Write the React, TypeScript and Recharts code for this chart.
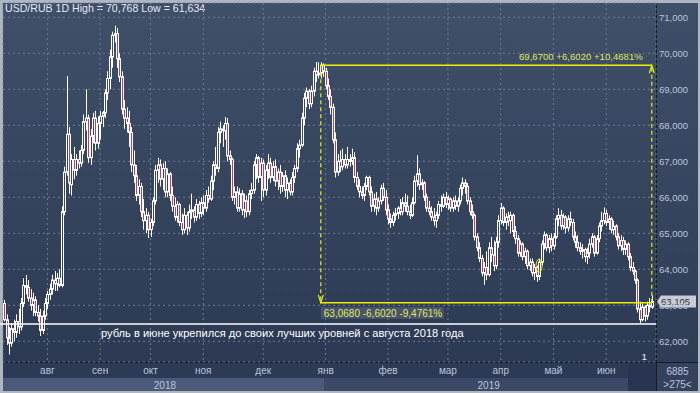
import React from "react";
import { ComposedChart, Bar, XAxis, YAxis, CartesianGrid, ReferenceLine, ReferenceDot } from "recharts";

type Ohlc = [number, number, number, number]; // open, high, low, close

const jul18: Ohlc[] = [
  [63.05, 63.15, 62.55, 62.6], [62.6, 62.75, 61.9, 62.1], [62.1, 62.4, 61.634, 61.95], [61.95, 62.5, 61.85, 62.35],
  [62.35, 62.6, 62.0, 62.25], [62.25, 62.75, 62.1, 62.55], [62.55, 62.9, 62.2, 62.4], [62.4, 63.2, 62.3, 63.05],
  [63.05, 63.75, 62.95, 63.55], [63.55, 63.84, 63.3, 63.5], [63.5, 63.7, 63.1, 63.2], [63.2, 63.45, 62.85, 63.0],
  [63.0, 63.35, 62.7, 63.15], [63.15, 63.25, 62.7, 62.8], [62.8, 63.0, 62.55, 62.7], [62.7, 62.9, 62.15, 62.3],
  [62.3, 62.85, 62.2, 62.7], [62.7, 63.2, 62.6, 63.05],
];
const aug18: Ohlc[] = [
  [63.05, 63.4, 62.9, 63.3], [63.3, 63.6, 63.15, 63.45], [63.45, 63.85, 63.3, 63.7], [63.7, 63.95, 63.4, 63.6],
  [63.6, 63.9, 63.4, 63.75], [63.75, 64.0, 63.5, 63.55], [63.55, 65.75, 63.5, 65.6], [65.6, 66.85, 65.5, 66.7],
  [66.7, 69.37, 66.6, 67.75], [67.75, 67.95, 66.1, 66.4], [66.35, 67.2, 66.05, 67.05], [67.05, 67.4, 66.5, 66.75],
  [66.75, 67.2, 66.6, 67.05], [67.05, 67.3, 66.8, 66.95], [66.95, 67.45, 66.85, 67.3], [67.3, 68.3, 67.2, 68.1],
  [68.1, 69.0, 67.85, 68.2], [68.2, 68.3, 66.95, 67.1], [67.1, 67.9, 66.9, 67.7], [67.7, 68.35, 67.5, 68.2],
  [68.2, 68.4, 67.3, 67.5], [67.5, 68.25, 67.35, 68.05],
];
const sep18: Ohlc[] = [
  [68.05, 68.4, 67.6, 68.25], [68.25, 68.4, 67.95, 68.35], [68.35, 69.0, 68.2, 68.9], [68.9, 69.5, 68.7, 69.3],
  [69.3, 70.1, 69.0, 69.9], [69.9, 70.6, 69.6, 70.5], [70.5, 70.768, 70.3, 70.55], [70.55, 70.7, 69.6, 69.85],
  [69.85, 70.0, 69.2, 69.35], [69.35, 69.5, 68.3, 68.45], [68.45, 68.7, 67.9, 68.2], [68.2, 68.5, 67.8, 68.05],
  [68.05, 68.4, 67.4, 67.8], [67.8, 67.95, 66.7, 66.9], [66.9, 67.3, 66.4, 66.6], [66.6, 66.9, 65.9, 66.05],
  [66.05, 66.5, 65.8, 66.3], [66.3, 66.4, 65.45, 65.6], [65.6, 65.95, 65.1, 65.35], [65.35, 65.7, 65.0, 65.5],
  [65.5, 65.6, 64.87, 65.1],
];
const oct18: Ohlc[] = [
  [65.1, 65.4, 64.9, 65.3], [65.3, 66.0, 65.2, 65.9], [65.9, 66.9, 65.8, 66.75], [66.75, 67.1, 66.4, 66.9],
  [66.9, 67.05, 66.3, 66.5], [66.5, 66.95, 66.2, 66.8], [66.8, 67.0, 66.0, 66.15], [66.15, 66.8, 66.0, 66.65],
  [66.65, 66.7, 65.9, 66.05], [66.05, 66.3, 65.6, 65.75], [65.75, 66.0, 65.35, 65.45], [65.45, 65.9, 65.3, 65.8],
  [65.8, 65.85, 65.2, 65.3], [65.3, 65.55, 64.95, 65.1], [65.1, 65.7, 65.0, 65.5], [65.5, 65.6, 64.95, 65.15],
  [65.15, 65.8, 65.05, 65.6], [65.6, 66.1, 65.4, 65.65], [65.65, 65.75, 65.3, 65.45], [65.45, 65.95, 65.35, 65.8],
  [65.8, 65.9, 65.4, 65.55], [65.55, 66.0, 65.45, 65.85],
];
const nov18: Ohlc[] = [
  [65.85, 66.05, 65.5, 65.7], [65.7, 66.2, 65.6, 66.05], [66.05, 66.3, 65.85, 65.95], [65.95, 66.6, 65.9, 66.45],
  [66.45, 67.0, 66.2, 66.9], [66.9, 67.4, 66.6, 66.8], [66.8, 67.95, 66.7, 67.8], [67.8, 68.1, 67.5, 67.9],
  [67.9, 68.0, 67.4, 67.85], [67.85, 68.23, 67.6, 68.05], [68.05, 68.2, 67.0, 67.15], [67.15, 67.3, 66.9, 67.05],
  [67.05, 67.1, 65.9, 66.0], [66.0, 66.3, 65.8, 66.15], [66.15, 66.3, 65.6, 65.7], [65.7, 66.25, 65.6, 66.1],
  [66.1, 66.2, 65.5, 65.65], [65.65, 66.1, 65.42, 65.9], [65.9, 66.05, 65.45, 65.6], [65.6, 66.2, 65.5, 66.1],
  [66.1, 66.4, 65.95, 66.2], [66.2, 67.0, 66.1, 66.9], [66.9, 67.2, 66.5, 67.1], [67.1, 67.15, 66.4, 66.55],
  [66.55, 67.1, 65.9, 66.95],
];
const dec18: Ohlc[] = [
  [66.95, 67.05, 66.0, 66.2], [66.2, 66.9, 66.05, 66.75], [66.75, 67.2, 66.5, 66.95], [66.95, 67.1, 66.4, 66.55],
  [66.55, 67.0, 66.45, 66.85], [66.85, 67.05, 66.3, 66.45], [66.45, 66.8, 66.2, 66.7], [66.7, 66.9, 66.1, 66.3],
  [66.3, 66.7, 66.15, 66.6], [66.6, 66.75, 66.0, 66.2], [66.2, 66.55, 65.95, 66.4], [66.4, 66.5, 66.05, 66.15],
  [66.15, 66.7, 66.05, 66.55], [66.55, 66.9, 66.4, 66.8], [66.8, 67.5, 66.7, 67.35], [67.35, 67.6, 67.1, 67.45],
  [67.45, 68.35, 67.4, 68.2], [68.2, 68.9, 68.0, 68.75], [68.75, 69.05, 68.5, 68.95], [68.95, 69.0, 68.45, 68.6],
  [68.6, 69.1, 68.5, 68.95], [68.95, 69.6, 68.8, 69.5], [69.5, 69.76, 69.2, 69.4], [69.4, 69.75, 69.3, 69.45],
  [69.45, 69.75, 69.3, 69.67], [69.67, 69.72, 69.35, 69.5],
];
const jan19: Ohlc[] = [
  [69.5, 69.6, 69.0, 69.1], [69.1, 69.3, 68.7, 68.8], [68.8, 69.0, 68.3, 68.5], [68.5, 68.6, 67.5, 67.6],
  [67.6, 67.8, 66.55, 66.7], [66.7, 67.2, 66.6, 67.0], [67.0, 67.3, 66.7, 66.85], [66.85, 67.35, 66.75, 67.05],
  [67.05, 67.2, 66.8, 66.9], [66.9, 67.4, 66.8, 67.05], [67.05, 67.2, 66.85, 67.0], [67.0, 67.35, 66.9, 67.1],
  [67.1, 67.25, 66.4, 66.55], [66.55, 66.7, 66.2, 66.3], [66.3, 66.5, 66.0, 66.15], [66.15, 66.3, 65.95, 66.05],
  [66.05, 66.4, 65.9, 66.3], [66.3, 66.6, 66.2, 66.55], [66.55, 66.6, 66.05, 66.15], [66.15, 66.3, 65.6, 65.75],
  [65.75, 66.1, 65.6, 65.95], [65.95, 66.15, 65.5, 65.7], [65.7, 66.0, 65.6, 65.9], [65.9, 66.35, 65.8, 66.25],
  [66.25, 66.4, 65.9, 66.0], [66.0, 66.2, 65.5, 65.65],
];
const feb19: Ohlc[] = [
  [65.65, 65.8, 65.25, 65.4], [65.4, 65.55, 65.15, 65.3], [65.3, 65.6, 65.2, 65.5], [65.5, 65.7, 65.35, 65.55],
  [65.55, 65.75, 65.4, 65.7], [65.7, 65.95, 65.5, 65.6], [65.6, 66.0, 65.5, 65.85], [65.85, 66.1, 65.6, 65.75],
  [65.75, 66.05, 65.5, 65.6], [65.6, 65.8, 65.4, 65.5], [65.5, 66.0, 65.45, 65.85], [65.85, 66.6, 65.8, 66.45],
  [66.45, 67.17, 66.3, 66.65], [66.65, 66.8, 66.2, 66.35], [66.35, 66.5, 66.2, 66.4], [66.4, 66.45, 65.9, 66.0],
  [66.0, 66.1, 65.6, 65.7], [65.7, 65.9, 65.5, 65.6], [65.6, 65.75, 65.35, 65.45], [65.45, 65.7, 65.2, 65.35],
  [65.35, 65.6, 65.15, 65.5], [65.5, 65.9, 65.4, 65.8], [65.8, 66.05, 65.6, 65.75], [65.75, 66.1, 65.7, 66.0],
  [66.0, 66.15, 65.7, 65.8],
];
const mar19: Ohlc[] = [
  [65.8, 66.05, 65.65, 65.95], [65.95, 66.0, 65.6, 65.7], [65.7, 66.0, 65.6, 65.9], [65.9, 66.05, 65.65, 65.75],
  [65.75, 66.0, 65.6, 65.9], [65.9, 66.35, 65.8, 66.25], [66.25, 66.55, 66.05, 66.4], [66.4, 66.5, 66.1, 66.3],
  [66.3, 66.4, 65.8, 65.9], [65.9, 66.0, 65.5, 65.6], [65.6, 65.8, 65.4, 65.5], [65.5, 65.55, 64.8, 64.9],
  [64.9, 65.0, 64.5, 64.6], [64.6, 64.75, 64.2, 64.3], [64.3, 64.4, 63.8, 63.9], [63.9, 64.2, 63.57, 64.05],
  [64.05, 64.5, 63.7, 63.85], [63.85, 64.75, 63.8, 64.6], [64.6, 64.9, 64.2, 64.4], [64.4, 64.8, 63.95, 64.1],
  [64.1, 64.9, 64.0, 64.75], [64.75, 65.5, 64.6, 65.35],
];
const apr19: Ohlc[] = [
  [65.35, 65.84, 65.25, 65.7], [65.7, 65.75, 65.2, 65.3], [65.3, 65.55, 65.1, 65.45], [65.45, 65.6, 65.2, 65.35],
  [65.35, 65.6, 65.0, 65.5], [65.5, 65.55, 64.9, 65.05], [65.05, 65.2, 64.7, 64.85], [64.85, 64.95, 64.35, 64.45],
  [64.45, 64.8, 64.35, 64.7], [64.7, 64.75, 64.25, 64.35], [64.35, 64.6, 64.15, 64.5], [64.5, 64.55, 64.0, 64.1],
  [64.1, 64.3, 63.95, 64.2], [64.2, 64.3, 63.8, 63.9], [63.9, 64.15, 63.7, 64.05], [64.05, 64.1, 63.65, 63.8],
  [63.8, 64.3, 63.7, 64.2], [64.2, 64.8, 64.1, 64.7], [64.7, 65.05, 64.55, 64.95], [64.95, 65.0, 64.5, 64.6],
  [64.6, 64.95, 64.45, 64.85], [64.85, 65.0, 64.5, 64.65],
];
const may19: Ohlc[] = [
  [64.65, 65.0, 64.55, 64.9], [64.9, 65.5, 64.85, 65.4], [65.4, 65.7, 65.2, 65.5], [65.5, 65.65, 65.1, 65.2],
  [65.2, 65.55, 65.1, 65.45], [65.45, 65.5, 65.0, 65.15], [65.15, 65.5, 65.05, 65.4], [65.4, 65.6, 65.2, 65.3],
  [65.3, 65.4, 64.8, 64.9], [64.9, 65.05, 64.6, 64.75], [64.75, 64.95, 64.5, 64.6], [64.6, 64.75, 64.4, 64.5],
  [64.5, 64.7, 64.3, 64.55], [64.55, 64.6, 64.2, 64.35], [64.35, 64.6, 64.15, 64.45], [64.45, 64.85, 64.3, 64.7],
  [64.7, 65.0, 64.6, 64.9], [64.9, 64.95, 64.35, 64.45], [64.45, 64.95, 64.4, 64.85], [64.85, 65.3, 64.75, 65.2],
  [65.2, 65.6, 65.05, 65.35], [65.35, 65.72, 65.25, 65.55],
];
const jun19: Ohlc[] = [
  [65.55, 65.65, 65.2, 65.3], [65.3, 65.5, 65.1, 65.4], [65.4, 65.45, 65.0, 65.1], [65.1, 65.35, 64.95, 65.2],
  [65.2, 65.25, 64.8, 64.9], [64.9, 65.0, 64.55, 64.65], [64.65, 64.95, 64.5, 64.8], [64.8, 64.9, 64.4, 64.55],
  [64.55, 64.8, 64.4, 64.7], [64.7, 64.75, 64.25, 64.35], [64.35, 64.45, 63.95, 64.05], [64.05, 64.2, 63.85, 63.95],
  [63.95, 64.0, 63.6, 63.7], [63.7, 63.75, 62.8, 62.9], [62.9, 63.1, 62.5, 62.6], [62.6, 63.05, 62.55, 62.95],
  [62.95, 63.0, 62.55, 62.7], [62.7, 63.1, 62.6, 63.0], [63.0, 63.2, 62.8, 62.95], [62.95, 63.28, 62.9, 63.105],
];

const months = [
  { id: "июл18", label: "", year: "2018", bars: jul18 },
  { id: "авг18", label: "авг", year: "2018", bars: aug18 },
  { id: "сен18", label: "сен", year: "2018", bars: sep18 },
  { id: "окт18", label: "окт", year: "2018", bars: oct18 },
  { id: "ноя18", label: "ноя", year: "2018", bars: nov18 },
  { id: "дек18", label: "дек", year: "2018", bars: dec18 },
  { id: "янв19", label: "янв", year: "2019", bars: jan19 },
  { id: "фев19", label: "фев", year: "2019", bars: feb19 },
  { id: "мар19", label: "мар", year: "2019", bars: mar19 },
  { id: "апр19", label: "апр", year: "2019", bars: apr19 },
  { id: "май19", label: "май", year: "2019", bars: may19 },
  { id: "июн19", label: "июн", year: "2019", bars: jun19 },
];

const priceTicks = [62, 63, 64, 65, 66, 67, 68, 69, 70, 71];
const measureHigh = 69.67;
const measureLow = 63.068;
const supportLevel = 62.48;
const markerKey = "апр19#16";
const markerValue = 64.1;
const note = "рубль в июне укрепился до своих лучших уровней с августа 2018 года";

const rows = months.flatMap((m) =>
  m.bars.map(([o, h, l, c], j) => ({ k: `${m.id}#${j}`, o, h, l, c, year: m.year, month: j === 0 ? m.label : "" }))
);
const monthTicks = rows.filter((r) => r.month).map((r) => r.k);
const monthLabel: Record<string, string> = Object.fromEntries(rows.filter((r) => r.month).map((r) => [r.k, r.month]));
const years = ["2018", "2019"];
const yearTicks = years.map((y) => {
  const rs = rows.filter((r) => r.year === y);
  return rs[Math.floor(rs.length / 2)].k;
});
const yearLabel: Record<string, string> = Object.fromEntries(yearTicks.map((k, i) => [k, years[i]]));

const fmt = (v: number, d: number) => v.toFixed(d).replace(".", ",");
const hi = Math.max(...rows.map((r) => r.h));
const lo = Math.min(...rows.map((r) => r.l));
const last = rows[rows.length - 1];
const measureStart = rows.find((r) => r.c === measureHigh)!.k;
const diff = measureHigh - measureLow;

const FONT = "'Liberation Sans', Arial, sans-serif";
const AXIS_TEXT = "#b9c6dc";
const YELLOW = "#eef000";
const YELLOW_TEXT = "#dfe85a";

const Candle = (props: any) => {
  const { x, y, width, height, payload } = props;
  if (x == null || y == null || !payload) return null;
  const { o, h, l, c } = payload;
  const top = Math.min(y, y + height);
  const span = Math.abs(height);
  const toY = (v: number) => top + ((h - v) / (h - l || 1)) * span;
  const cx = Math.round(x + width / 2);
  const bTop = Math.min(toY(o), toY(c));
  const bBot = Math.max(toY(o), toY(c), bTop + 1);
  const down = c < o;
  return (
    <g>
      <line x1={cx + 0.5} x2={cx + 0.5} y1={top} y2={bTop} stroke="#fff" />
      <line x1={cx + 0.5} x2={cx + 0.5} y1={bBot} y2={top + span} stroke="#fff" />
      <rect x={cx - 0.5} y={bTop} width={2} height={bBot - bTop} fill={down ? "#c63a5e" : "none"} stroke="#fff" strokeWidth={1} />
    </g>
  );
};

const Arrow = ({ x1, y1, x2, y2 }: any) => {
  const dir = y2 > y1 ? 1 : -1;
  return (
    <g>
      <line x1={x1} y1={y1} x2={x2} y2={y2} stroke={YELLOW} strokeWidth={1.2} strokeDasharray="4 3" />
      <polyline points={`${x2 - 2.5},${y2 - dir * 8} ${x2},${y2} ${x2 + 2.5},${y2 - dir * 8}`} fill="none" stroke={YELLOW} strokeWidth={1.2} />
    </g>
  );
};

export default function App() {
  return (
    <div style={{ position: "fixed", left: 0, top: 0, width: 700, height: 393, background: "#aeb6c1", fontFamily: FONT, overflow: "hidden" }}>
      <div style={{ position: "absolute", left: 3, top: 3, width: 653, height: 359, background: "linear-gradient(#405069, #2c3953)" }} />
      <div style={{ position: "absolute", left: 657, top: 3, width: 41, height: 359, background: "linear-gradient(#3f4e69, #2f3c56)" }} />
      <div style={{ position: "absolute", left: 656, top: 3, width: 1, height: 388, background: "#151b26" }} />
      <div style={{ position: "absolute", left: 3, top: 362, width: 695, height: 1, background: "#151b26" }} />
      <div style={{ position: "absolute", left: 3, top: 363, width: 653, height: 28, background: "#2d3a55" }} />
      <div style={{ position: "absolute", left: 3, top: 378, width: 321, height: 13, background: "#4a5a78" }} />
      <div style={{ position: "absolute", left: 324, top: 378, width: 332, height: 13, background: "#3b4966" }} />
      <div style={{ position: "absolute", left: 628, top: 363, width: 28, height: 28, background: "#283450" }} />
      <div style={{ position: "absolute", left: 657, top: 363, width: 41, height: 28, background: "#34415c" }} />
      <div style={{ position: "absolute", left: 5, top: 2, fontSize: 10.6, color: "#e4eaf1", whiteSpace: "nowrap" }}>
        {`USD/RUB 1D High = ${fmt(hi, 3)} Low = ${fmt(lo, 3)}`}
      </div>
      <div style={{ position: "absolute", left: 657, top: 365, width: 41, textAlign: "center", fontSize: 10, color: AXIS_TEXT, lineHeight: "13px" }}>
        6885<br />&gt;275&lt;
      </div>
      <div style={{ position: "absolute", left: 0, top: 0 }}>
        <ComposedChart width={700} height={393} data={rows} margin={{ top: 3, right: 0, bottom: 2, left: 3 }} barCategoryGap="10%">
          <CartesianGrid stroke="#6b7a96" strokeDasharray="2 3" />
          <XAxis
            dataKey="k"
            ticks={monthTicks}
            interval={0}
            height={14}
            padding={{ left: 0, right: 3 }}
            axisLine={false}
            tickLine={false}
            tick={({ x, y, payload }: any) => (
              <text x={x} y={y} dy={4} textAnchor="middle" fontSize={10} fill={AXIS_TEXT} fontFamily={FONT}>
                {monthLabel[payload.value]}
              </text>
            )}
          />
          <XAxis
            xAxisId="yr"
            dataKey="k"
            ticks={yearTicks}
            interval={0}
            height={15}
            padding={{ left: 0, right: 3 }}
            axisLine={false}
            tickLine={false}
            tick={({ x, y, payload }: any) => (
              <text x={x} y={y} dy={5} textAnchor="middle" fontSize={10} fill={AXIS_TEXT} fontFamily={FONT}>
                {yearLabel[payload.value]}
              </text>
            )}
          />
          <YAxis
            orientation="right"
            width={44}
            domain={[61.425, 71.397]}
            allowDataOverflow
            ticks={priceTicks}
            interval={0}
            axisLine={false}
            tickLine={false}
            tick={({ x, y, payload }: any) => (
              <text x={x - 5} y={y} dy={3.5} textAnchor="start" fontSize={9.5} fill={AXIS_TEXT} fontFamily={FONT}>
                {fmt(payload.value, 3)}
              </text>
            )}
          />
          <Bar dataKey={(d: any) => [d.l, d.h]} isAnimationActive={false} shape={(p: any) => <Candle {...p} />} />
          <ReferenceLine
            y={supportLevel}
            shape={({ x1, y1, x2 }: any) => {
              const lx = Math.min(x1, x2);
              const rx = Math.max(x1, x2);
              return (
                <g>
                  <line x1={lx - 3} y1={y1} x2={rx} y2={y1} stroke="#ffffff" strokeWidth={1.3} />
                  <text x={lx + 98} y={y1 + 13} fontSize={11.1} fill="#ffffff" fontFamily={FONT}>{note}</text>
                </g>
              );
            }}
          />
          <ReferenceLine
            segment={[{ x: measureStart, y: measureHigh }, { x: last.k, y: measureHigh }]}
            shape={({ x1, y1, x2, y2 }: any) => (
              <g>
                <line x1={x1} y1={y1} x2={x2} y2={y2} stroke={YELLOW} strokeWidth={1.5} />
                <text x={Math.max(x1, x2) - 9} y={y1 - 5} textAnchor="end" fontSize={9.6} fill={YELLOW_TEXT} fontFamily={FONT}>
                  {`${fmt(measureHigh, 4)}  +${fmt(diff, 4)}  +${fmt((diff / measureLow) * 100, 4)}%`}
                </text>
              </g>
            )}
          />
          <ReferenceLine
            segment={[{ x: measureStart, y: measureLow }, { x: last.k, y: measureLow }]}
            shape={({ x1, y1, x2, y2 }: any) => (
              <g>
                <line x1={x1} y1={y1} x2={x2} y2={y2} stroke={YELLOW} strokeWidth={1.5} />
                <rect x={Math.min(x1, x2)} y={y1 + 4} width={123} height={12} fill="#4d586f" opacity={0.85} />
                <text x={Math.min(x1, x2) + 3} y={y1 + 14} fontSize={10} fill={YELLOW_TEXT} fontFamily={FONT}>
                  {`${fmt(measureLow, 4)}  -${fmt(diff, 4)}  -${fmt((diff / measureHigh) * 100, 4)}%`}
                </text>
              </g>
            )}
          />
          <ReferenceLine segment={[{ x: measureStart, y: measureHigh }, { x: measureStart, y: measureLow }]} shape={(p: any) => <Arrow {...p} />} />
          <ReferenceLine segment={[{ x: last.k, y: measureLow }, { x: last.k, y: measureHigh }]} shape={(p: any) => <Arrow {...p} />} />
          <ReferenceDot
            x={markerKey}
            y={markerValue}
            shape={({ cx, cy }: any) => <ellipse cx={cx} cy={cy} rx={3} ry={6.5} fill="none" stroke={YELLOW} strokeWidth={1} />}
          />
          <ReferenceLine
            y={last.c}
            shape={({ x1, x2, y1 }: any) => {
              const rx = Math.max(x1, x2);
              return (
                <g>
                  <polygon points={`${rx + 1},${y1} ${rx + 5},${y1 - 6} ${rx + 40},${y1 - 6} ${rx + 40},${y1 + 6} ${rx + 5},${y1 + 6}`} fill="#c9ccd2" />
                  <text x={rx + 5} y={y1 + 3.5} fontSize={9.5} fill="#2a2f3a" fontFamily={FONT}>{fmt(last.c, 3)}</text>
                </g>
              );
            }}
          />
          <ReferenceLine
            x={last.k}
            shape={({ x1, y1, y2 }: any) => (
              <text x={x1 - 10} y={Math.max(y1, y2) - 2} fontSize={9} fill="#ffffff" fontFamily={FONT}>1</text>
            )}
          />
        </ComposedChart>
      </div>
    </div>
  );
}
